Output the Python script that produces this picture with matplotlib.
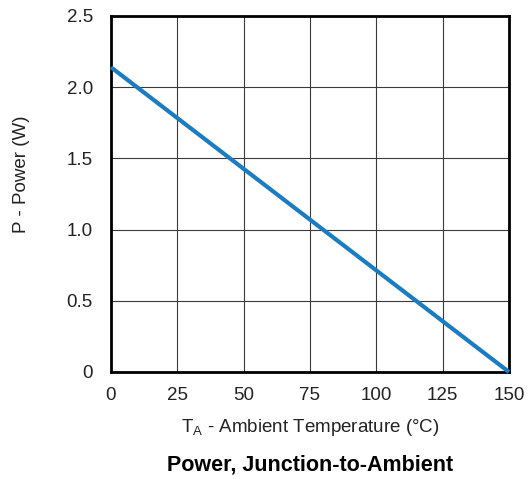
import matplotlib
matplotlib.use("Agg")
import matplotlib.pyplot as plt

temps = [0, 150]
power = [2.14, 0.0]
xticks = [0, 25, 50, 75, 100, 125, 150]
yticks = [0, 0.5, 1.0, 1.5, 2.0, 2.5]
ylabels = ["0", "0.5", "1.0", "1.5", "2.0", "2.5"]

plt.rcParams['font.family'] = ['Liberation Sans', 'DejaVu Sans']
W, H = 530, 479
fig = plt.figure(figsize=(W/100, H/100), dpi=100)
L, R, T, B = 111, 509, 16, 372
ax = fig.add_axes([L/W, 1-B/H, (R-L)/W, (B-T)/H])
ax.plot(temps, power, color='#1b7cc1', lw=3, solid_capstyle='butt', zorder=3, clip_on=False)
ax.set_xlim(0, 150)
ax.set_ylim(0, 2.5)
ax.set_xticks(xticks)
ax.set_xticklabels([str(t) for t in xticks])
ax.set_yticks(yticks)
ax.set_yticklabels(ylabels)
ax.grid(True, color='#3a3a3a', lw=0.8)
for s in ax.spines.values():
    s.set_linewidth(2)
    s.set_color('black')
ax.tick_params(length=0, labelsize=13.5, colors='#222222')
ax.tick_params(axis='x', pad=11)
ax.tick_params(axis='y', pad=13)
ax.set_xlabel(r'T$_{\mathregular{A}}$ - Ambient Temperature (°C)', fontsize=13.5, labelpad=9, color='#222222')
fig.text(22/W, 1-174/H, 'P - Power (W)', rotation=90, ha='center', va='center',
         fontsize=13.5, color='#222222')
fig.text((L+R)/2/W, 1-465/H, 'Power, Junction-to-Ambient', ha='center', va='center',
         fontsize=15.5, fontweight='bold')
fig.savefig('out.png', dpi=100)
